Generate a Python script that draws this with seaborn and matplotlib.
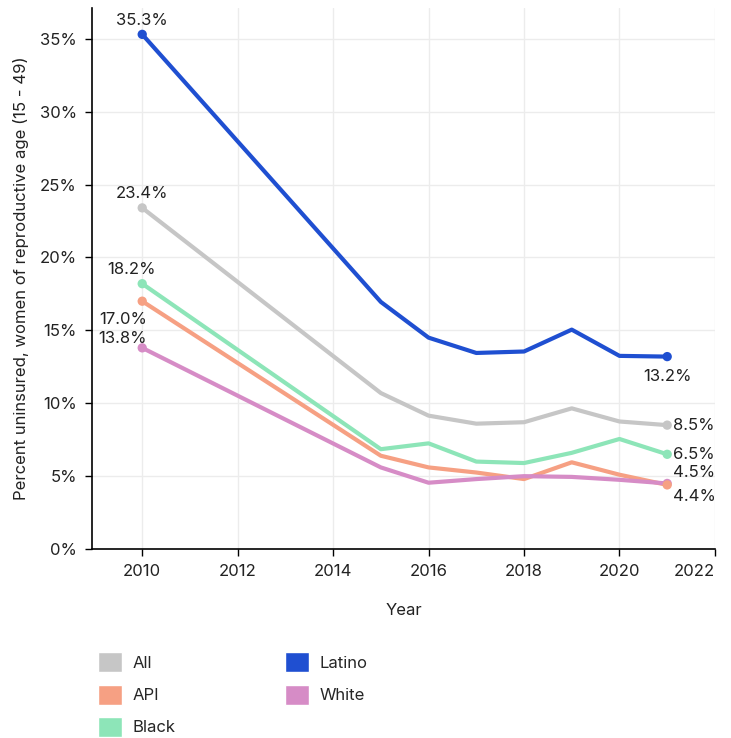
import pandas as pd
import seaborn as sns
import matplotlib.pyplot as plt
from matplotlib.patches import Patch
from matplotlib.ticker import FuncFormatter

# data
years = [2010, 2015, 2016, 2017, 2018, 2019, 2020, 2021]
groups = ['All', 'API', 'Black', 'Latino', 'White']
all_vals = [23.4, 10.7, 9.15, 8.6, 8.7, 9.65, 8.75, 8.5]
api_vals = [17.0, 6.4, 5.6, 5.25, 4.8, 5.95, 5.1, 4.4]
black_vals = [18.2, 6.85, 7.25, 6.0, 5.9, 6.6, 7.55, 6.5]
latino_vals = [35.3, 16.95, 14.5, 13.45, 13.55, 15.05, 13.25, 13.2]
white_vals = [13.8, 5.6, 4.55, 4.8, 5.0, 4.95, 4.75, 4.5]
colors = ['#c6c6c6', '#f6a083', '#8de5b8', '#1f4fd1', '#d68cc6']

df = pd.DataFrame({'Year': years * 5,
                   'group': sum([[g] * len(years) for g in groups], []),
                   'value': all_vals + api_vals + black_vals + latino_vals + white_vals})
palette = dict(zip(groups, colors))

sns.set_style('white')
plt.rcParams['font.family'] = ['Inter', 'DejaVu Sans']

fig = plt.figure(figsize=(7.31, 7.38), dpi=100)
ax = fig.add_axes([0.126, 0.256, 0.852, 0.733])

sns.lineplot(data=df, x='Year', y='value', hue='group', palette=palette,
             linewidth=3, legend=False, ax=ax)
ends = df[df['Year'].isin([years[0], years[-1]])]
# API end marker sits on top of White in the reference
ends_draw = pd.concat([ends[ends['group'] != 'API'], ends[ends['group'] == 'API']])
sns.scatterplot(data=ends_draw, x='Year', y='value', hue='group', palette=palette,
                s=45, edgecolor='none', legend=False, ax=ax, zorder=5)

# value labels at the ends (offsets in points)
offsets = {
    ('All', 2010): (0, 10, 'center'), ('All', 2021): (4, 0, 'left'),
    ('API', 2010): (-14, -13, 'center'), ('API', 2021): (4, -8, 'left'),
    ('Black', 2010): (-8, 10, 'center'), ('Black', 2021): (4, 0, 'left'),
    ('Latino', 2010): (0, 10, 'center'), ('Latino', 2021): (0, -14, 'center'),
    ('White', 2010): (-14, 6.5, 'center'), ('White', 2021): (4, 8, 'left'),
}
for _, r in ends.iterrows():
    dx, dy, ha = offsets[(r['group'], r['Year'])]
    ax.annotate(f"{r['value']:.1f}%", (r['Year'], r['value']), xytext=(dx, dy),
                textcoords='offset points', ha=ha, va='center', fontsize=12,
                color='#222222', zorder=6)

ax.set_xlim(2008.95, 2022)
ax.set_ylim(0, 37.1)
ax.set_xticks(range(2010, 2023, 2))
ax.set_yticks(range(0, 36, 5))
ax.yaxis.set_major_formatter(FuncFormatter(lambda v, p: f'{v:.0f}%'))
ax.grid(True, color='#ececec', linewidth=1)
ax.tick_params(axis='both', labelsize=12, length=5, width=1, color='black',
               direction='out', bottom=True, left=True, pad=6, labelcolor='#222222')
ax.get_xticklabels()[-1].set_horizontalalignment('right')
for s in ['top', 'right']:
    ax.spines[s].set_visible(False)
for s in ['left', 'bottom']:
    ax.spines[s].set_color('black')
    ax.spines[s].set_linewidth(1.2)
ax.set_xlabel('Year', fontsize=12, labelpad=17, color='#222222')
ax.set_ylabel('Percent uninsured, women of reproductive age (15 - 49)', fontsize=12,
              labelpad=8, color='#222222')

handles = [Patch(facecolor=palette[g], label=g) for g in groups]
fig.legend(handles=handles, loc='upper left', bbox_to_anchor=(0.125, 0.125), ncol=2,
           frameon=False, fontsize=12, handlelength=1.45, handleheight=1.45,
           columnspacing=6.6, labelspacing=0.75, handletextpad=0.6, borderaxespad=0)

fig.savefig('out.png', dpi=100)
